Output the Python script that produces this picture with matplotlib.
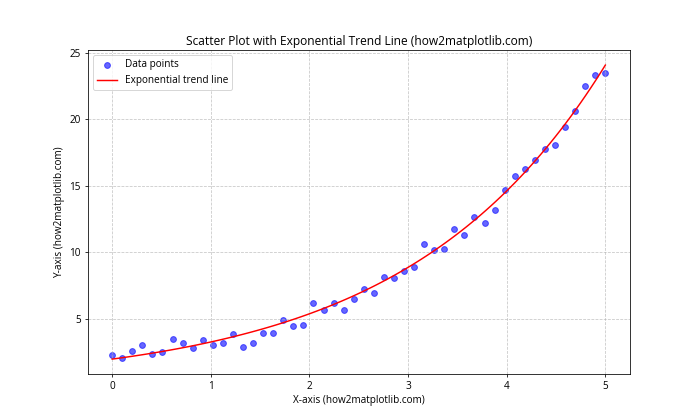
import matplotlib
matplotlib.use("Agg")
import matplotlib.pyplot as plt
import numpy as np

plt.rcParams['font.family'] = ['Open Sans', 'DejaVu Sans']
plt.rcParams['font.size'] = 10.3

# data points
x = np.linspace(0, 5, 50)
y = np.array([2.26, 2.04, 2.57, 3.07, 2.34, 2.49, 3.53, 3.23, 2.80, 3.45,
              3.07, 3.22, 3.85, 2.92, 3.22, 3.98, 3.98, 4.90, 4.50, 4.58,
              6.24, 5.71, 6.17, 5.71, 6.54, 7.22, 6.92, 8.15, 8.05, 8.58,
              8.88, 10.62, 10.16, 10.23, 11.75, 11.30, 12.66, 12.20, 13.18, 14.69,
              15.75, 16.28, 16.96, 17.79, 18.09, 19.42, 20.65, 22.47, 23.30, 23.45])

# exponential fit y = a*exp(b*x), weighted log fit
b, log_a = np.polyfit(x, np.log(y), 1, w=y)
a = np.exp(log_a)
x_fit = np.linspace(0, 5, 100)
y_fit = a * np.exp(b * x_fit)

fig, ax = plt.subplots(figsize=(10, 6), dpi=70)
ax.scatter(x, y, color='blue', alpha=0.6, label='Data points')
ax.plot(x_fit, y_fit, color='red', label='Exponential trend line')

ax.set_title('Scatter Plot with Exponential Trend Line (how2matplotlib.com)')
ax.set_xlabel('X-axis (how2matplotlib.com)')
ax.set_ylabel('Y-axis (how2matplotlib.com)')
ax.legend(loc='upper left')
ax.grid(True, linestyle='--', alpha=0.7)
plt.savefig('out.png')
